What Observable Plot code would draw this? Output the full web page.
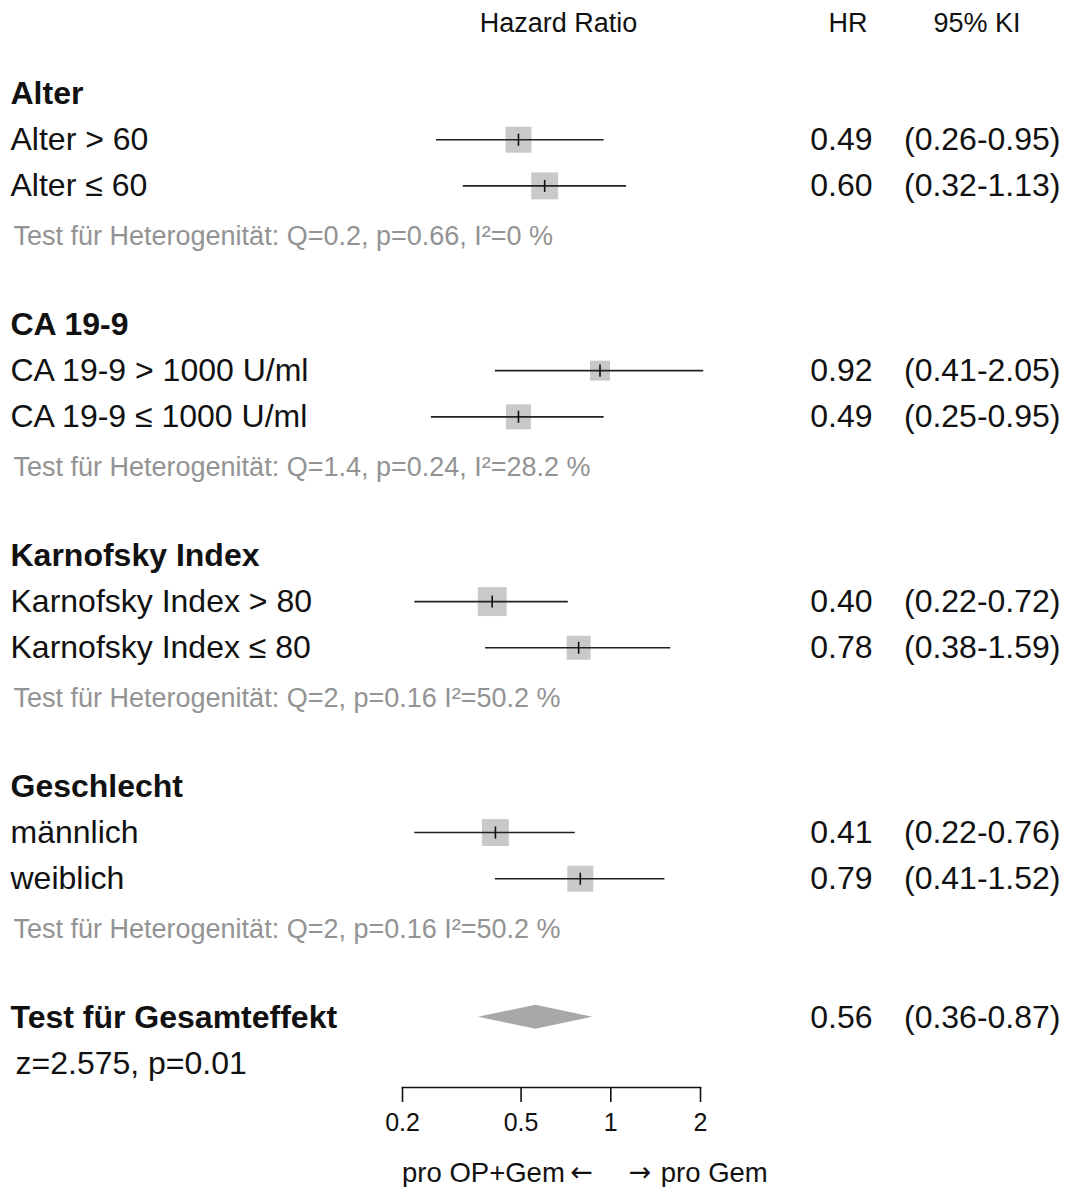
<!DOCTYPE html>
<html>
<head>
<meta charset="utf-8">
<script src="https://cdn.jsdelivr.net/npm/d3@7"></script>
<script src="https://cdn.jsdelivr.net/npm/@observablehq/plot@0.6"></script>
<style>
  body { margin: 0; background: #fff; }
  #chart svg { display: block; }
</style>
</head>
<body>
<div id="chart"></div>
<script>
// ---- data ----
const columnHeaders = ["Hazard Ratio", "HR", "95% KI"];
const groups = ["Alter", "CA 19-9", "Karnofsky Index", "Geschlecht"];
const subgroups = [
  "Alter > 60", "Alter ≤ 60",
  "CA 19-9 > 1000 U/ml", "CA 19-9 ≤ 1000 U/ml",
  "Karnofsky Index > 80", "Karnofsky Index ≤ 80",
  "männlich", "weiblich"
];
const hr    = [0.49, 0.60, 0.92, 0.49, 0.40, 0.78, 0.41, 0.79];
const lower = [0.26, 0.32, 0.41, 0.25, 0.22, 0.38, 0.22, 0.41];
const upper = [0.95, 1.13, 2.05, 0.95, 0.72, 1.59, 0.76, 1.52];
const weight = [6.8, 7.3, 4.0, 6.3, 8.4, 5.8, 7.3, 6.8]; // relative study weights (box area)
const hetTests = [
  "Test für Heterogenität: Q=0.2, p=0.66, I²=0 %",
  "Test für Heterogenität: Q=1.4, p=0.24, I²=28.2 %",
  "Test für Heterogenität: Q=2, p=0.16 I²=50.2 %",
  "Test für Heterogenität: Q=2, p=0.16 I²=50.2 %"
];
const overallLabel = "Test für Gesamteffekt";
const overallHR = 0.56, overallLower = 0.36, overallUpper = 0.87;
const overallTest = "z=2.575, p=0.01";
const xTicks = [0.2, 0.5, 1, 2];
const directionLabels = ["pro OP+Gem", "pro Gem"];
const directionArrows = ["←", "→"];

// ---- layout tables built from the arrays ----
const SLOTS = 5; // header, two subgroups, test line, gap
const rows = subgroups.map((label, i) => ({
  label, hr: hr[i], lower: lower[i], upper: upper[i], weight: weight[i],
  slot: Math.floor(i / 2) * SLOTS + 1 + (i % 2)
}));
const headers = groups.map((label, g) => ({label, slot: g * SLOTS}));
const tests = hetTests.map((label, g) => ({label, slot: g * SLOTS + 3}));
const overallSlot = groups.length * SLOTS;
const overallRow = [{label: overallLabel, hr: overallHR, lower: overallLower, upper: overallUpper, slot: overallSlot}];
const zRow = [{label: overallTest, slot: overallSlot + 1}];
const dh = 0.26; // diamond half-height in row units
const diamond = [
  {y: overallSlot - dh, x1: overallHR, x2: overallHR},
  {y: overallSlot, x1: overallLower, x2: overallUpper},
  {y: overallSlot + dh, x1: overallHR, x2: overallHR}
];
const fmtCI = d => `(${d.lower.toFixed(2)}-${d.upper.toFixed(2)})`;
const vbar = {draw(ctx, size) { const h = Math.sqrt(size) / 2; ctx.moveTo(0, -h); ctx.lineTo(0, h); }};

const INK = "#111";
const GREY = "#939393";
const FS = 32;

const chart = Plot.plot({
  width: 1067,
  height: 1187,
  marginLeft: 402,
  marginRight: 367,
  marginTop: 23,
  marginBottom: 100,
  style: {fontFamily: "'Liberation Sans', Arial, Helvetica, sans-serif", color: INK, background: "#fff", overflow: "visible"},
  x: {type: "log", domain: [0.2, 2]},
  y: {domain: [0, overallSlot + 1], range: [93, 1063], axis: null},
  r: {type: "sqrt", domain: [0, 10], range: [0, 17.8]},
  marks: [
    // column headers
    Plot.text([columnHeaders[0]], {text: d => d, frameAnchor: "top", lineAnchor: "middle", textAnchor: "middle", dx: 7, fontSize: 27, fill: INK}),
    Plot.text([columnHeaders[1]], {text: d => d, frameAnchor: "top-right", lineAnchor: "middle", textAnchor: "end", dx: 167, fontSize: 27, fill: INK}),
    Plot.text([columnHeaders[2]], {text: d => d, frameAnchor: "top-right", lineAnchor: "middle", textAnchor: "end", dx: 320, fontSize: 27, fill: INK}),

    // group headers
    Plot.text(headers, {y: "slot", text: "label", frameAnchor: "left", textAnchor: "start", dx: -392, fontSize: FS, fontWeight: "bold", fill: INK}),
    // subgroup labels
    Plot.text(rows, {y: "slot", text: "label", frameAnchor: "left", textAnchor: "start", dx: -392, fontSize: FS, fill: INK}),
    // heterogeneity tests
    Plot.text(tests, {y: "slot", text: "label", frameAnchor: "left", textAnchor: "start", dx: -389, dy: 4, fontSize: 27, fill: GREY}),

    // boxes, CI lines, point ticks
    Plot.dot(rows, {x: "hr", y: "slot", r: "weight", symbol: "square", fill: "#c9c9c9", stroke: "none"}),
    Plot.ruleY(rows, {y: "slot", x1: "lower", x2: "upper", stroke: "#222", strokeWidth: 1.6}),
    Plot.dot(rows, {x: "hr", y: "slot", r: 6.8, symbol: vbar, fill: "none", stroke: INK, strokeWidth: 1.6}),

    // HR and CI columns
    Plot.text(rows, {y: "slot", text: d => d.hr.toFixed(2), frameAnchor: "right", textAnchor: "end", dx: 172, fontSize: FS, fill: INK}),
    Plot.text(rows, {y: "slot", text: fmtCI, frameAnchor: "right", textAnchor: "end", dx: 360, fontSize: FS, fill: INK}),

    // overall effect
    Plot.areaX(diamond, {y: "y", x1: "x1", x2: "x2", fill: "#a8a8a8"}),
    Plot.text(overallRow, {y: "slot", text: "label", frameAnchor: "left", textAnchor: "start", dx: -392, fontSize: FS, fontWeight: "bold", fill: INK}),
    Plot.text(overallRow, {y: "slot", text: d => d.hr.toFixed(2), frameAnchor: "right", textAnchor: "end", dx: 172, fontSize: FS, fill: INK}),
    Plot.text(overallRow, {y: "slot", text: fmtCI, frameAnchor: "right", textAnchor: "end", dx: 360, fontSize: FS, fill: INK}),
    Plot.text(zRow, {y: "slot", text: "label", frameAnchor: "left", textAnchor: "start", dx: -387, fontSize: FS, fill: INK}),

    // x axis
    Plot.frame({anchor: "bottom", stroke: INK, strokeWidth: 1.6}),
    Plot.axisX({ticks: xTicks, tickFormat: d => String(d), tickSize: 15, tickPadding: 11, fontSize: 25, stroke: INK, strokeWidth: 1.6, color: INK, label: null}),

    // direction labels
    Plot.text([1], {x: d => d, text: () => directionLabels[0], frameAnchor: "bottom", lineAnchor: "middle", textAnchor: "end", dx: -46, dy: 86, fontSize: 27.5, fill: INK}),
    Plot.text([1], {x: d => d, text: () => directionArrows[0], frameAnchor: "bottom", lineAnchor: "middle", textAnchor: "end", dx: -18, dy: 85, fontSize: 27, fill: INK, fontFamily: "DejaVu Sans"}),
    Plot.text([1], {x: d => d, text: () => directionArrows[1], frameAnchor: "bottom", lineAnchor: "middle", textAnchor: "start", dx: 18, dy: 85, fontSize: 27, fill: INK, fontFamily: "DejaVu Sans"}),
    Plot.text([1], {x: d => d, text: () => directionLabels[1], frameAnchor: "bottom", lineAnchor: "middle", textAnchor: "start", dx: 50, dy: 86, fontSize: 27.5, fill: INK})
  ]
});
document.getElementById("chart").appendChild(chart);
</script>
</body>
</html>
